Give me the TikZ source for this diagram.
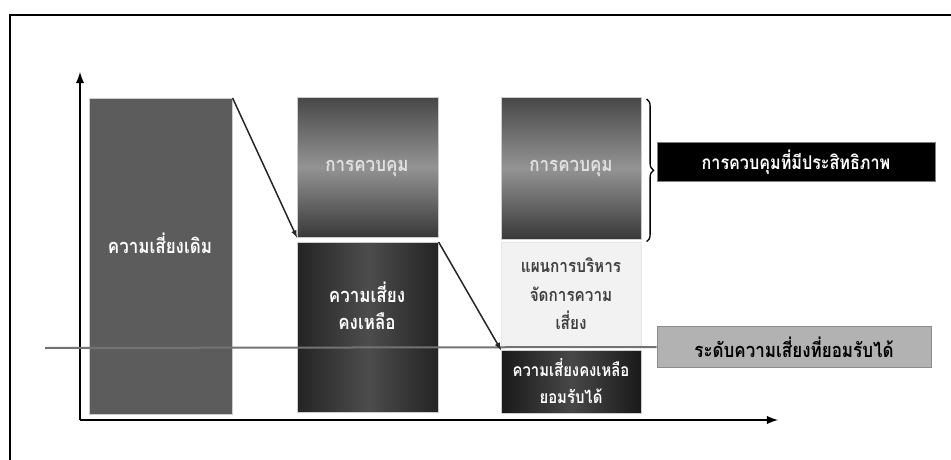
\documentclass[tikz,border=0pt]{standalone}
\usepackage{fontspec}
\newfontfamily\thaifont[Script=Thai,FakeStretch=0.85]{Loma}
\usetikzlibrary{decorations.pathreplacing}

\begin{document}
\begin{tikzpicture}[x=1pt,y=-1pt,>=latex,
    bar/.style={anchor=north west,inner sep=0pt,draw=gray!40,line width=0.6pt},
    ctrl/.style={bar,top color=black!72,bottom color=black!78,middle color=black!42},
    resid/.style={bar,left color=black!86,right color=black!86,middle color=black!70},
    txt/.style={align=center,font=\thaifont\bfseries\fontsize{20}{27}\selectfont,text=white}]
  \useasboundingbox (0,0) rectangle (951,460);
  % frame
  \draw[line width=1.5pt] (951,15) -- (10,15) -- (10,460);
  % axes
  \coordinate (origin) at (80,420);
  \coordinate (ytop) at (80,72);
  \coordinate (xend) at (778,420);
  \draw[->,line width=2.8pt] (origin) -- (ytop);
  \draw[->,line width=2.8pt] (origin) -- (xend);
  % first bar
  \node[bar,fill=black!64,minimum width=143,minimum height=316] (orig) at (89,98) {};
  \node[txt] (origtxt) at (160,243) {ความเสี่ยงเดิม};
  % second bar
  \node[ctrl,minimum width=141,minimum height=140] (ctrlA) at (297,97) {};
  \node[txt,text=white!88!black] (ctrlAtxt) at (367,168) {การควบคุม};
  \node[resid,minimum width=141,minimum height=170] (residA) at (297,242) {};
  \node[txt] (residAtxt) at (367,306) {ความเสี่ยง\\คงเหลือ};
  % third bar
  \node[ctrl,minimum width=140,minimum height=142] (ctrlB) at (501,97) {};
  \node[txt,text=white!88!black] (ctrlBtxt) at (571,168) {การควบคุม};
  \node[bar,fill=black!5,draw=black!10,minimum width=140,minimum height=105] (plan) at (501,242) {};
  \node[txt,text=black!75,font=\thaifont\bfseries\fontsize{18}{28.5}\selectfont] (plantxt) at (571,294) {แผนการบริหาร\\จัดการความ\\เสี่ยง};
  \node[resid,left color=black!90,right color=black!90,middle color=black!72,minimum width=140,minimum height=63] (residB) at (501,350) {};
  \node[txt,font=\thaifont\bfseries\fontsize{17.5}{27}\selectfont] (residBtxt) at (571,381) {ความเสี่ยงคงเหลือ\\ยอมรับได้};
  % labels on the right
  \node[fill=black,draw=gray,minimum width=278,minimum height=39,text=white,
        font=\thaifont\bfseries\fontsize{19}{22}\selectfont] (effective) at (796,162) {การควบคุมที่มีประสิทธิภาพ};
  \node[fill=black!30,draw=black!45,line width=1pt,minimum width=274,minimum height=41,
        font=\thaifont\bfseries\fontsize{20}{24}\selectfont] (accept) at (794,347) {ระดับความเสี่ยงที่ยอมรับได้};
  % acceptable level
  \coordinate (lvl) at (45,348);
  \draw[black!55,line width=2pt] (lvl) -- (accept.west);
  % brace
  \draw[line width=1.3pt,decorate,decoration={brace,amplitude=7pt}]
    (ctrlB.north east) ++(5,2) -- ([xshift=5pt,yshift=-2pt]ctrlB.south east);
  % arrows
  \draw[->,black!85,line width=1.5pt] (orig.north east) -- (ctrlA.south west);
  \draw[->,black!85,line width=1.5pt] (residA.north east) -- (residB.north west);
\end{tikzpicture}
\end{document}
